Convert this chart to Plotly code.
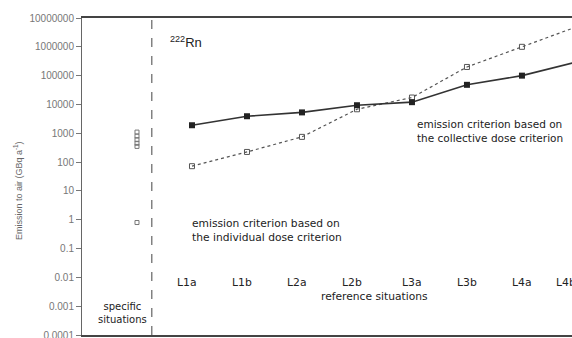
import plotly.graph_objects as go

categories = ["L1a", "L1b", "L2a", "L2b", "L3a", "L3b", "L4a", "L4b"]
collective = [1900, 3900, 5300, 9400, 12000, 48000, 100000, 300000]
individual = [72, 225, 750, 6800, 17400, 200000, 1000000, 5000000]
specific_values = [1100, 800, 600, 450, 350, 0.8]
ytick_vals = [1e7, 1e6, 1e5, 1e4, 1e3, 100, 10, 1, 0.1, 0.01, 0.001, 0.0001]
ytick_text = ["10000000", "1000000", "100000", "10000", "1000", "100", "10", "1",
              "0.1", "0.01", "0.001", "0.0001"]

xpos = list(range(1, len(categories) + 1))
XMAX = 7.91
FONT = "DejaVu Sans, Verdana, sans-serif"
TFONT = "Liberation Sans, Arial, sans-serif"
TXT = "#222222"

fig = go.Figure()
fig.add_trace(go.Scatter(
    x=xpos, y=individual, mode="lines+markers",
    line=dict(color="#555555", width=1.2, dash="dot"),
    marker=dict(symbol="square-open", size=5, color="#555555", line=dict(width=1)),
    showlegend=False))
fig.add_trace(go.Scatter(
    x=xpos, y=collective, mode="lines+markers",
    line=dict(color="#333333", width=1.6),
    marker=dict(symbol="square", size=6, color="#222222"),
    showlegend=False))
fig.add_trace(go.Scatter(
    x=[0] * len(specific_values), y=specific_values, mode="markers",
    marker=dict(symbol="square-open", size=4, color="#777777", line=dict(width=1)),
    showlegend=False))

fig.add_shape(type="line", xref="x", yref="paper", x0=0.27, x1=0.27, y0=0, y1=1,
              line=dict(color="#444444", width=1, dash="dash"))

annots = []
for i, (xp, c) in enumerate(zip(xpos, categories)):
    if xp > XMAX:
        # label of a category beyond the visible range: shown cut at the edge
        annots.append(dict(x=XMAX - 0.32, y=-2.17, xref="x", yref="y", text=c,
                           showarrow=False, xanchor="left",
                           font=dict(family=FONT, size=10.8, color=TXT)))
    else:
        shift = -0.09 if i < 4 else 0.0
        annots.append(dict(x=xp + shift, y=-2.17, xref="x", yref="y", text=c,
                           showarrow=False, font=dict(family=FONT, size=10.8, color=TXT)))
annots += [
    dict(x=0.56, y=6.17, xref="x", yref="y", text="<sup>222</sup>Rn", showarrow=False,
         font=dict(family=TFONT, size=13, color=TXT), xanchor="left"),
    dict(x=5.06, y=3.08, xref="x", yref="y",
         text="emission criterion based on<br>the collective dose criterion",
         showarrow=False, align="left", xanchor="left",
         font=dict(family=FONT, size=10.5, color=TXT)),
    dict(x=0.96, y=-0.36, xref="x", yref="y",
         text="emission criterion based on<br>the individual dose criterion",
         showarrow=False, align="left", xanchor="left",
         font=dict(family=FONT, size=10.7, color=TXT)),
    dict(x=4.31, y=-2.65, xref="x", yref="y", text="reference situations",
         showarrow=False, font=dict(family=FONT, size=10.7, color=TXT)),
    dict(x=-0.27, y=-3.24, xref="x", yref="y", text="specific<br>situations",
         showarrow=False, font=dict(family=FONT, size=10, color=TXT)),
    dict(x=-0.147, y=0.457, xref="paper", yref="paper", text="Emission to air (GBq a<sup>-1</sup>)",
         textangle=-90, showarrow=False,
         font=dict(family=TFONT, size=9, color="#666666")),
]

fig.update_layout(
    width=572, height=338,
    margin=dict(l=82, r=0, t=18, b=3, autoexpand=False),
    paper_bgcolor="white", plot_bgcolor="white",
    annotations=annots,
    xaxis=dict(range=[-1, XMAX], showticklabels=False, showgrid=False, zeroline=False,
               ticks="", showline=True, linecolor="#444444", linewidth=2, mirror=True,
               automargin=False),
    yaxis=dict(type="log", range=[-4, 7], tickvals=ytick_vals, ticktext=ytick_text,
               showgrid=False, zeroline=False, ticks="outside", ticklen=5,
               tickcolor="#777777", showline=True, linecolor="#666666", linewidth=1,
               automargin=False, ticklabeloverflow="allow",
               tickfont=dict(family=TFONT, size=10, color="#777777")),
)

fig.write_html("out.html", config={"displayModeBar": False},
               post_script="document.body.style.margin='0';document.body.style.overflow='hidden';")
